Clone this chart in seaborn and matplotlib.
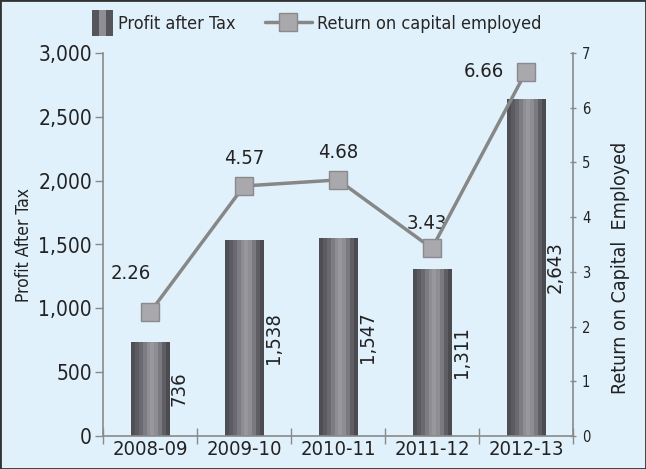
import matplotlib
matplotlib.use("Agg")
import matplotlib.pyplot as plt
import seaborn as sns
import numpy as np
import pandas as pd
from matplotlib.lines import Line2D
from matplotlib.patches import Patch, Rectangle
from matplotlib.legend_handler import HandlerPatch
from matplotlib.colors import LinearSegmentedColormap

years = ["2008-09", "2009-10", "2010-11", "2011-12", "2012-13"]
profit = [736, 1538, 1547, 1311, 2643]
profit_labels = ["736", "1,538", "1,547", "1,311", "2,643"]
roce = [2.26, 4.57, 4.68, 3.43, 6.66]
roce_labels = ["2.26", "4.57", "4.68", "3.43", "6.66"]

sns.set_theme(style="white")
plt.rcParams['font.family'] = ['DejaVu Sans']
plt.rcParams['font.stretch'] = 'condensed'

bg = "#e1f1fb"
txt = "#222222"
axis_col = "#8a8a8a"

fig = plt.figure(figsize=(6.46, 4.69), dpi=100, facecolor=bg)
ax = fig.add_axes([103/646, 1 - 436/469, 470/646, 383/469])
ax.set_facecolor(bg)

df = pd.DataFrame({"year": years, "profit": profit})
sns.barplot(data=df, x="year", y="profit", ax=ax, width=0.41, color="#6a6970",
            edgecolor="none", saturation=1)

stripes = ["#4f4e55", "#5c5b62", "#6a6970", "#7d7c83", "#8e8d93", "#98979d",
           "#8e8d93", "#7a797f", "#5f5e64", "#4c4b50"]
cmap = LinearSegmentedColormap.from_list("cyl", stripes, N=len(stripes))
grad = np.linspace(0, 1, len(stripes)).reshape(1, -1)
for p in list(ax.patches):
    x0, y0 = p.get_x(), p.get_y()
    w, h = p.get_width(), p.get_height()
    im = ax.imshow(grad, cmap=cmap, aspect="auto", extent=[x0, x0 + w, y0, y0 + h],
                   interpolation="nearest", zorder=2)
    im.set_clip_path(p)

ax.set_xlim(-0.5, 4.5)
ax.set_ylim(0, 3000)
ax.set_yticks([0, 500, 1000, 1500, 2000, 2500, 3000])
ax.set_yticklabels(["0", "500", "1,000", "1,500", "2,000", "2,500", "3,000"])
ax.set_xlabel("")
ax.set_ylabel("Profit After Tax", fontsize=12.5, color=txt)
ax.yaxis.set_label_coords(-0.149, 0.5)
ax.tick_params(axis="y", labelsize=15, colors=txt, length=6, width=1, color=axis_col, left=True, pad=2)
ax.tick_params(axis="x", labelsize=14.5, colors=txt, length=0, pad=3)
ax.set_xticks([-0.5, 0.5, 1.5, 2.5, 3.5, 4.5], minor=True)
ax.tick_params(axis="x", which="minor", length=12, width=1, color=axis_col, direction="inout", bottom=True)
for s in ["top", "right"]:
    ax.spines[s].set_visible(False)
for s in ["left", "bottom"]:
    ax.spines[s].set_color(axis_col)
    ax.spines[s].set_linewidth(1.2)

for i, (v, lab) in enumerate(zip(profit, profit_labels)):
    ax.text(i + 0.31, v / 2, lab, rotation=90, ha="center", va="center",
            fontsize=14.5, color=txt, zorder=5)

ax2 = ax.twinx()
sns.lineplot(x=np.arange(len(years)), y=roce, ax=ax2, color="#878787", linewidth=2.5,
             marker="s", markersize=13, markerfacecolor="#a9a9ad",
             markeredgecolor="#8a8a8e", markeredgewidth=1, zorder=4)
ax2.set_ylim(0, 7)
ax2.set_yticks(range(8))
ax2.tick_params(axis="y", labelsize=10.5, colors=txt, length=5, width=1, color=axis_col,
                direction="inout", right=True, pad=4)
ax2.set_ylabel("Return on Capital  Employed", fontsize=14, color=txt)
ax2.yaxis.set_label_coords(1.081, 0.44)
for s in ["top", "left", "bottom"]:
    ax2.spines[s].set_visible(False)
ax2.spines["right"].set_color(axis_col)
ax2.spines["right"].set_linewidth(1.2)

offsets = [(-14, 28), (0, 20), (0, 20), (-4, 18), (-30, 0)]
for i, (v, lab) in enumerate(zip(roce, roce_labels)):
    dx, dy = offsets[i]
    ax2.annotate(lab, (i, v), xytext=(dx, dy), textcoords="offset points",
                 ha="center", va="center", fontsize=14.5, color=txt)


class NarrowBar(HandlerPatch):
    def create_artists(self, legend, orig_handle, xdescent, ydescent, width, height,
                       fontsize, trans):
        w = width * 0.45
        x = -xdescent + width - w
        cols = ["#56555c", "#8f8e94", "#56555c"]
        n = len(cols)
        arts = []
        for k in range(n):
            arts.append(Rectangle((x + k * w / n, -ydescent - 0.2 * height), w / n,
                                  height * 1.4, facecolor=cols[k], edgecolor="none",
                                  transform=trans))
        return arts


handles = [Patch(facecolor="#6a6970", edgecolor="none"),
           Line2D([0], [0], color="#878787", linewidth=2.5, marker="s", markersize=13,
                  markerfacecolor="#a9a9ad", markeredgecolor="#8a8a8e")]
fig.legend(handles, ["Profit after Tax", "Return on capital employed"], loc="upper center",
           bbox_to_anchor=(0.47, 1.005), ncol=2, frameon=False, fontsize=13,
           handlelength=2.6, handleheight=1.2, handletextpad=0.3, columnspacing=1.6,
           handler_map={Patch: NarrowBar()})

fig.patches.append(plt.Rectangle((0, 0), 1, 1, transform=fig.transFigure, fill=False,
                                 edgecolor="#333333", linewidth=2, zorder=10))

fig.savefig("out.png", dpi=100, facecolor=bg)
